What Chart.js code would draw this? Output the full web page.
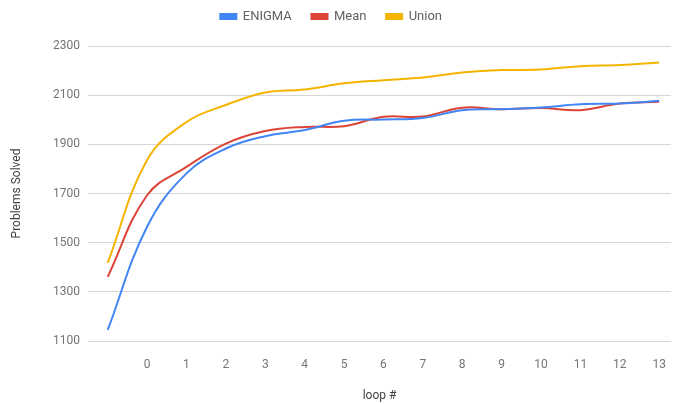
<!DOCTYPE html>
<html>
<head>
<meta charset="utf-8">
<script src="https://cdn.jsdelivr.net/npm/chart.js@4"></script>
<style>
    html, body { margin: 0; padding: 0; background: #fff; }
    #wrap { width: 675px; height: 404px; }
</style>
</head>
<body>
<div id="wrap"><canvas id="loops"></canvas></div>
<script>
// loop index (-1 is the starting point, no tick label)
const loops = [-1, 0, 1, 2, 3, 4, 5, 6, 7, 8, 9, 10, 11, 12, 13];
const enigma = [1145, 1565, 1782, 1883, 1933, 1958, 1996, 2001, 2007, 2039, 2043, 2050, 2063, 2066, 2077];
const mean = [1361, 1693, 1808, 1903, 1954, 1971, 1974, 2012, 2013, 2049, 2043, 2048, 2039, 2066, 2073];
const union = [1418, 1836, 1991, 2060, 2111, 2123, 2148, 2161, 2172, 2192, 2202, 2204, 2218, 2223, 2233];
const yTicks = [1100, 1300, 1500, 1700, 1900, 2100, 2300];

function toPoints(values) {
    return values.map((v, i) => ({ x: loops[i], y: v }));
}

function makeSeries(label, values, color) {
    return {
        label: label,
        data: toPoints(values),
        borderColor: color,
        backgroundColor: color,
        borderWidth: 2,
        pointRadius: 0,
        tension: 0.4,
        fill: false
    };
}

// push the plot down a bit below the legend
const legendGap = {
    id: 'legendGap',
    beforeInit(chart) {
        const fit = chart.legend.fit;
        chart.legend.fit = function () {
            fit.bind(chart.legend)();
            this.height += 13;
        };
    }
};

const ctx = document.getElementById('loops').getContext('2d');
new Chart(ctx, {
    type: 'line',
    data: {
        datasets: [
            makeSeries('ENIGMA', enigma, '#4285f4'),
            makeSeries('Mean', mean, '#db4437'),
            makeSeries('Union', union, '#f4b400')
        ]
    },
    options: {
        responsive: true,
        maintainAspectRatio: false,
        animation: false,
        layout: { padding: { top: 0, right: 3 } },
        plugins: {
            legend: {
                position: 'top',
                labels: {
                    boxWidth: 16,
                    boxHeight: 5,
                    padding: 10,
                    color: '#616161',
                    font: { family: 'Roboto', size: 13 },
                    generateLabels: (chart) => {
                        // pad the text so the items sit further apart, like the original
                        const items = Chart.defaults.plugins.legend.labels.generateLabels(chart);
                        items.forEach(it => { it.text = it.text + '   '; });
                        return items;
                    }
                }
            },
            tooltip: { enabled: false }
        },
        scales: {
            x: {
                type: 'linear',
                min: -1.5,
                max: 13.3,
                afterBuildTicks: (scale) => {
                    scale.ticks = loops.filter(v => v >= 0).map(v => ({ value: v }));
                },
                afterFit: (scale) => { scale.height = 63; },
                grid: { display: false },
                border: { display: false },
                ticks: {
                    padding: 9,
                    color: '#757575',
                    font: { family: 'Roboto', size: 12 },
                    callback: (v) => String(v)
                },
                title: {
                    display: true,
                    text: 'loop #',
                    color: '#424242',
                    padding: { bottom: 1 },
                    font: { family: 'Roboto', size: 12 }
                }
            },
            y: {
                min: 1100,
                max: 2300,
                afterBuildTicks: (scale) => {
                    scale.ticks = yTicks.map(v => ({ value: v }));
                },
                afterFit: (scale) => { scale.width = 88; },
                grid: { color: '#d6d6d6', drawTicks: false },
                border: { display: false },
                ticks: {
                    padding: 8,
                    color: '#757575',
                    font: { family: 'Roboto', size: 12 },
                    callback: (v) => String(v)
                },
                title: {
                    display: true,
                    text: 'Problems Solved',
                    color: '#424242',
                    padding: { top: 10 },
                    font: { family: 'Roboto', size: 12 }
                }
            }
        }
    },
    plugins: [legendGap]
});
</script>
</body>
</html>
